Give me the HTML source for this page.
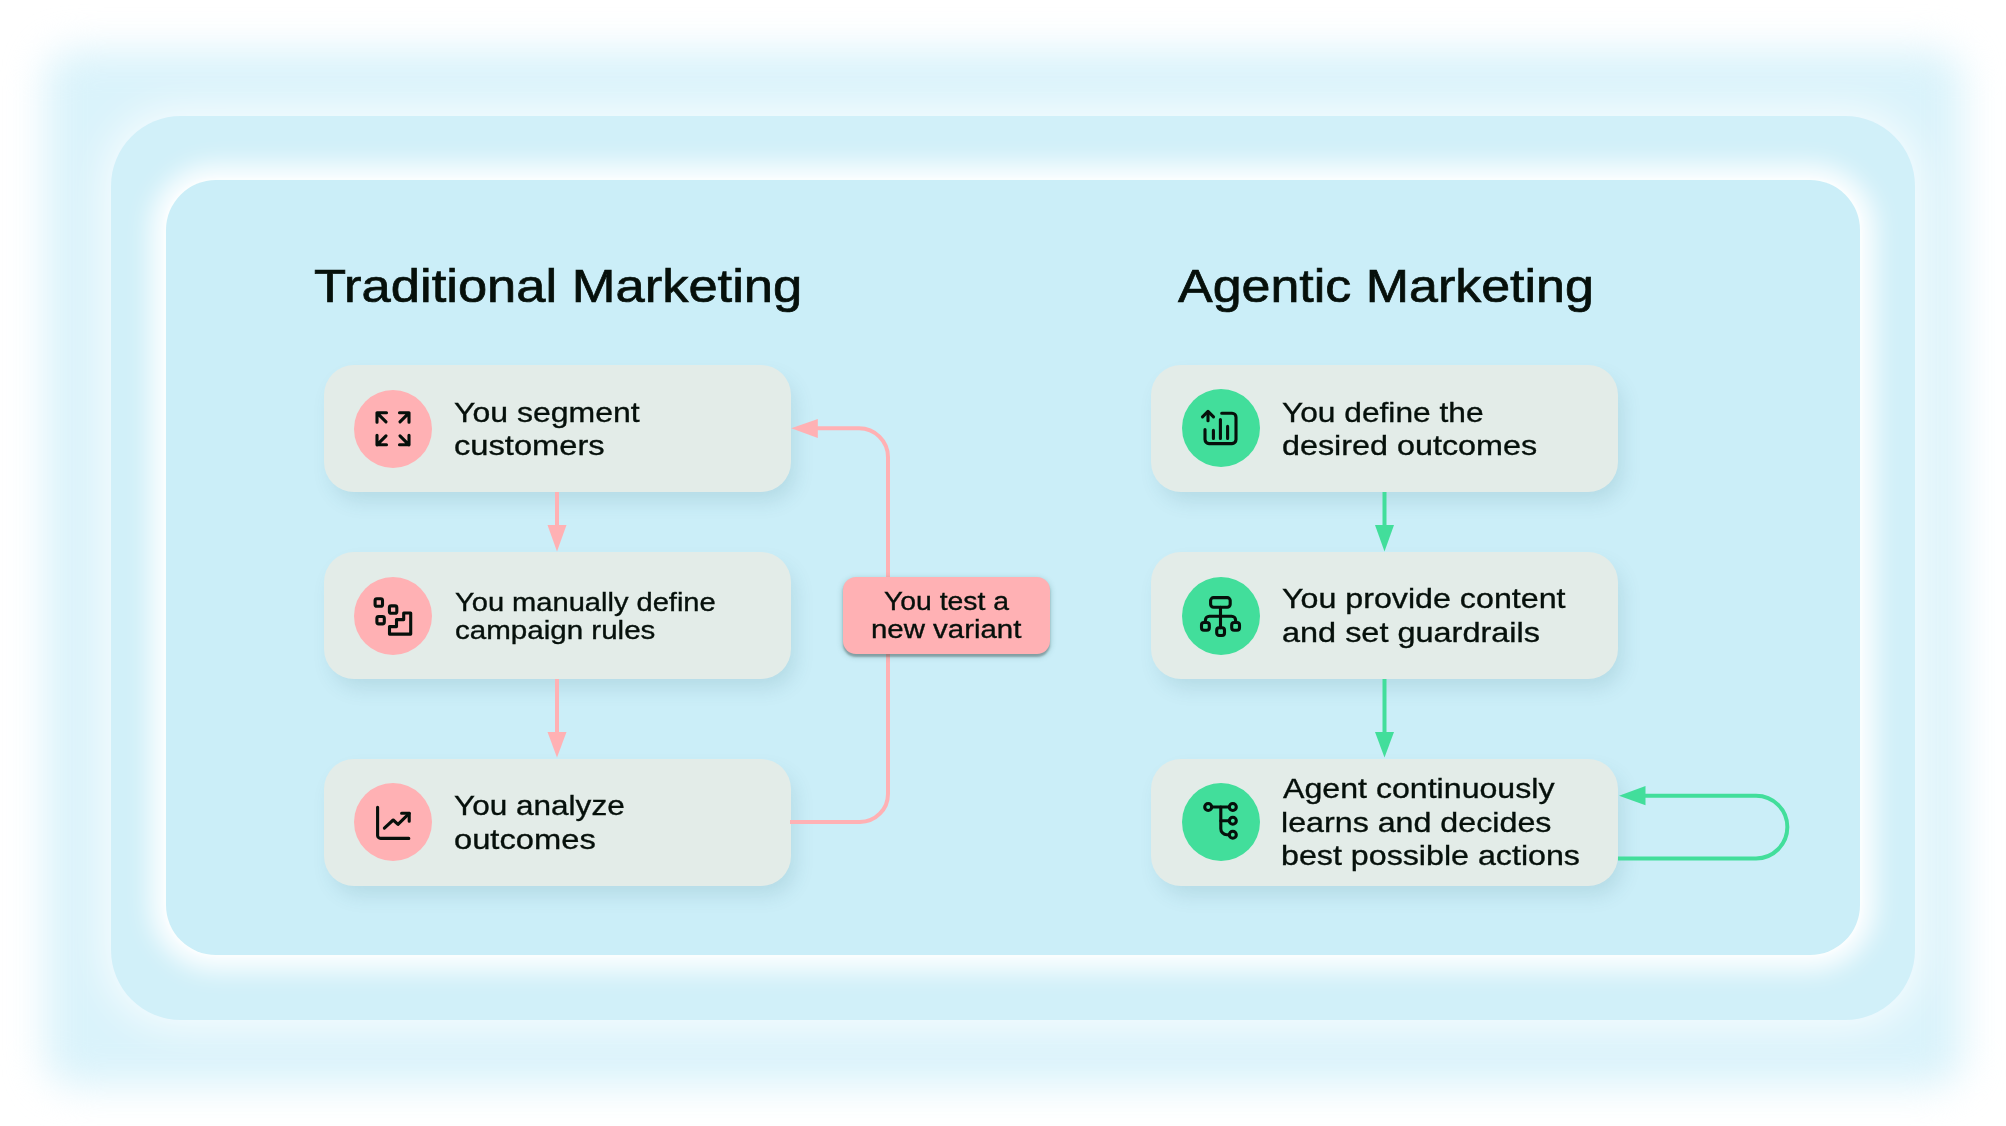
<!DOCTYPE html>
<html>
<head>
<meta charset="utf-8">
<style>
html,body{margin:0;padding:0;}
body{width:2006px;height:1126px;background:#ffffff;position:relative;overflow:hidden;font-family:"Liberation Sans",sans-serif;}
.fill{position:absolute;left:45px;top:50px;width:1918px;height:1036px;border-radius:30px;background:#daf3fb;filter:blur(19px);}
.glow{position:absolute;left:111px;top:116px;width:1804px;height:904px;border-radius:70px;background:#d1f0f9;box-shadow:0 0 44px 6px rgba(255,255,255,0.82);}
.inner{position:absolute;left:166px;top:180px;width:1694px;height:775px;border-radius:50px;background:#cbeef8;
  box-shadow:0 0 5px 2px rgba(255,255,255,0.6),0 0 24px 16px rgba(255,255,255,0.92);}
.card{position:absolute;width:467px;height:127px;border-radius:30px;background:#e3ece8;
  box-shadow:6px 11px 20px -2px rgba(30,90,105,0.13);}
.circ{position:absolute;width:78px;height:78px;border-radius:50%;}
.pink{background:#ffb1b4;}
.green{background:#42de9b;}
.t{position:absolute;white-space:nowrap;line-height:1;color:#06100b;transform-origin:0 0;-webkit-text-stroke:0.35px #06100b;}
.badge{position:absolute;left:843px;top:577px;width:207px;height:77px;border-radius:13px;background:#ffb1b4;
  box-shadow:0 3px 2px rgba(60,65,65,0.35),0 2px 6px rgba(40,110,100,0.32);}
svg{position:absolute;left:0;top:0;}
</style>
</head>
<body>
<div class="fill"></div>
<div class="glow"></div>
<div class="inner"></div>



<div class="card" style="left:323.5px;top:365px;"></div>
<div class="card" style="left:323.5px;top:552px;"></div>
<div class="card" style="left:323.5px;top:759px;"></div>
<div class="card" style="left:1151px;top:365px;"></div>
<div class="card" style="left:1151px;top:552px;"></div>
<div class="card" style="left:1151px;top:759px;"></div>

<!-- connectors -->
<svg width="2006" height="1126" viewBox="0 0 2006 1126">
  <g fill="none" stroke-width="4">
    <path d="M557 492 V527" stroke="#ffb1b4"/>
    <path d="M557 679 V734" stroke="#ffb1b4"/>
    <path d="M790 821.9 H860 A28 28 0 0 0 888 793.9 V457 A29 29 0 0 0 859 428.3 H815" stroke="#ffb1b4"/>
    <path d="M1384.5 492 V527" stroke="#42de9b"/>
    <path d="M1384.5 679 V734" stroke="#42de9b"/>
    <path d="M1618 858.4 H1756 A31.35 31.35 0 0 0 1756 795.7 H1643" stroke="#42de9b"/>
  </g>
  <g>
    <path d="M547.5 525 L566.5 525 L557 551.5 Z" fill="#ffb1b4"/>
    <path d="M547.5 732 L566.5 732 L557 757.5 Z" fill="#ffb1b4"/>
    <path d="M817.8 418.9 L817.8 437.9 L791.2 428.3 Z" fill="#ffb1b4"/>
    <path d="M1375 525 L1394 525 L1384.5 551.6 Z" fill="#42de9b"/>
    <path d="M1375 732 L1394 732 L1384.5 757.5 Z" fill="#42de9b"/>
    <path d="M1645.5 786.1 L1645.5 805.3 L1619 795.7 Z" fill="#42de9b"/>
  </g>
</svg>

<div class="badge"></div>

<div class="circ pink" style="left:354px;top:389.5px;"></div>
<div class="circ pink" style="left:354px;top:576.6px;"></div>
<div class="circ pink" style="left:354px;top:782.8px;"></div>
<div class="circ green" style="left:1181.5px;top:389px;"></div>
<div class="circ green" style="left:1181.5px;top:576.8px;"></div>
<div class="circ green" style="left:1181.5px;top:783px;"></div>

<!-- icons -->
<svg width="2006" height="1126" viewBox="0 0 2006 1126">
  <g fill="none" stroke="#06100b" stroke-width="3.1" stroke-linecap="round" stroke-linejoin="round">
    <!-- expand arrows -->
    <g transform="translate(393 428.8)">
      <path d="M-16 -6.5 V-16 H-6.5 M-16 -16 L-7 -7"/>
      <path d="M16 -6.5 V-16 H6.5 M16 -16 L7 -7"/>
      <path d="M-16 6.5 V16 H-6.5 M-16 16 L-7 7"/>
      <path d="M16 6.5 V16 H6.5 M16 16 L7 7"/>
    </g>
    <!-- stairs + dots -->
    <g transform="translate(393 615.6)">
      <rect x="-17.9" y="-16.8" width="7.4" height="7.4" rx="1.8"/>
      <rect x="-3.6" y="-9.7" width="7.4" height="7.4" rx="1.8"/>
      <rect x="-16.1" y="0.9" width="7.4" height="7.4" rx="1.8"/>
      <path d="M-3.5 18.5 V11 H3.5 V4 H10.7 V-2.6 H17.7 V18.5 Z"/>
    </g>
    <!-- chart -->
    <g transform="translate(393 821.8)">
      <path d="M-15.4 -14.6 V13.6 A3 3 0 0 0 -12.4 16.6 H15.8"/>
      <path d="M-8.6 6.4 L0.2 -1.8 L5 2.6 L16.2 -8.4"/>
      <path d="M8.6 -8.6 H16.2 V-0.6"/>
    </g>
    <!-- report up -->
    <g transform="translate(1220.5 428)">
      <path d="M-12.5 -7.2 V-16"/>
      <path d="M-18 -11.2 L-12.5 -16.6 L-7 -11.2"/>
      <path d="M-15.5 1.6 V11.6 A4 4 0 0 0 -11.5 15.6 H11.5 A4 4 0 0 0 15.5 11.6 V-10.8 A4 4 0 0 0 11.5 -14.8 H1.2"/>
      <path d="M-7.1 2.4 V10.4 M-0.1 -8.4 V10.4 M7.1 -1.6 V10.4"/>
    </g>
    <!-- sitemap -->
    <g transform="translate(1220.5 615.8)">
      <rect x="-9.9" y="-18.2" width="19.6" height="9.6" rx="3"/>
      <path d="M0 -8.6 V11.9"/>
      <path d="M-15.1 6.7 V4.4 A4 4 0 0 1 -11.1 0.4 H11.1 A4 4 0 0 1 15.1 4.4 V6.7"/>
      <rect x="-19" y="6.7" width="7.8" height="7.8" rx="2.5"/>
      <rect x="11.2" y="6.7" width="7.8" height="7.8" rx="2.5"/>
      <rect x="-3.8" y="11.9" width="7.8" height="7.8" rx="2.5"/>
    </g>
    <!-- tree -->
    <g transform="translate(1220.5 822)">
      <circle cx="-12.3" cy="-15" r="3.5"/>
      <circle cx="12.3" cy="-15" r="3.5"/>
      <circle cx="12.3" cy="-1.2" r="3.5"/>
      <circle cx="12.3" cy="12.7" r="3.5"/>
      <path d="M-8.8 -15 H8.8"/>
      <path d="M0.3 -15 V6.7 A6 6 0 0 0 6.3 12.7 H8.8"/>
      <path d="M0.3 -1.2 H8.8"/>
    </g>
  </g>
</svg>

<div class="t" style="left:313.87px;top:263.04px;font-size:46.5px;transform:scaleX(1.1290);-webkit-text-stroke-width:0.7px;">Traditional Marketing</div>
<div class="t" style="left:1177.90px;top:263.34px;font-size:46.5px;transform:scaleX(1.1173);-webkit-text-stroke-width:0.7px;">Agentic Marketing</div>
<div class="t" style="left:454.27px;top:397.84px;font-size:28.3px;transform:scaleX(1.1313);">You segment</div>
<div class="t" style="left:454.25px;top:430.74px;font-size:28.3px;transform:scaleX(1.1547);">customers</div>
<div class="t" style="left:454.56px;top:589.50px;font-size:25.4px;transform:scaleX(1.1447);">You manually define</div>
<div class="t" style="left:454.54px;top:618.00px;font-size:25.4px;transform:scaleX(1.1635);">campaign rules</div>
<div class="t" style="left:454.29px;top:790.94px;font-size:28.3px;transform:scaleX(1.1146);">You analyze</div>
<div class="t" style="left:454.24px;top:824.94px;font-size:28.3px;transform:scaleX(1.1554);">outcomes</div>
<div class="t" style="left:1281.68px;top:397.84px;font-size:28.3px;transform:scaleX(1.1202);">You define the</div>
<div class="t" style="left:1281.66px;top:430.94px;font-size:28.3px;transform:scaleX(1.1421);">desired outcomes</div>
<div class="t" style="left:1281.95px;top:585.20px;font-size:28.0px;transform:scaleX(1.1502);">You provide content</div>
<div class="t" style="left:1281.94px;top:618.90px;font-size:28.0px;transform:scaleX(1.1588);">and set guardrails</div>
<div class="t" style="left:1283.10px;top:775.30px;font-size:28.0px;transform:scaleX(1.1475);">Agent continuously</div>
<div class="t" style="left:1280.80px;top:808.90px;font-size:28.0px;transform:scaleX(1.1504);">learns and decides</div>
<div class="t" style="left:1280.80px;top:842.10px;font-size:28.0px;transform:scaleX(1.1502);">best possible actions</div>
<div class="t" style="left:883.70px;top:589.04px;font-size:25.7px;transform:scaleX(1.1027);">You test a</div>
<div class="t" style="left:871.01px;top:616.84px;font-size:25.7px;transform:scaleX(1.1442);">new variant</div>
</body>
</html>
